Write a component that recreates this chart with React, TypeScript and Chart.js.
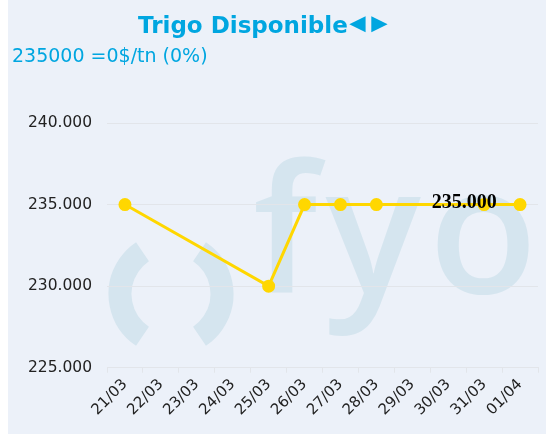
import React, { useEffect, useRef } from "react";
import { Chart, registerables } from "chart.js";

Chart.register(...registerables);

const categories = ["21/03", "22/03", "23/03", "24/03", "25/03", "26/03", "27/03", "28/03", "29/03", "30/03", "31/03", "01/04"];
const prices: (number | null)[] = [235000, null, null, null, 230000, 235000, 235000, 235000, null, null, 235000, 235000];
const yTicks = [225000, 230000, 235000, 240000];
const titleMain = "Trigo Disponible";
const titleArrows = ["\u25C4", "\u25BA"];
const subtitleText = "235000 =0$/tn (0%)";
const labelText = "235.000";
const labelIndex = 10;

const BLUE = "#00a6e0";
const BG = "#ecf1f9";
const WM = "#d5e5ef";

const fmt = (v: number) => v.toLocaleString("de-DE");

const drawGlyphBox = (ctx: any, ch: string, left: number, bottom: number, targetW: number) => {
  ctx.font = "bold 40px 'Liberation Sans'";
  let m = ctx.measureText(ch);
  const bw = m.actualBoundingBoxRight + m.actualBoundingBoxLeft;
  const size = 40 * targetW / (bw || 1);
  ctx.font = `bold ${size}px 'Liberation Sans'`;
  m = ctx.measureText(ch);
  ctx.fillText(ch, left + m.actualBoundingBoxLeft, bottom - m.actualBoundingBoxDescent);
};

const decorPlugin = {
  id: "decor",
  beforeDraw(chart: any) {
    const { ctx, width, height } = chart;
    ctx.save();
    ctx.fillStyle = BG;
    ctx.fillRect(0, 0, width, height);
    // watermark
    ctx.fillStyle = WM;
    ctx.strokeStyle = WM;
    ctx.font = "600 178px 'Open Sans'";
    ctx.textBaseline = "alphabetic";
    ctx.textAlign = "left";
    try { (ctx as any).letterSpacing = "8px"; } catch (e) {}
    ctx.fillText("fyo", 245, 293);
    try { (ctx as any).letterSpacing = "0px"; } catch (e) {}
    ctx.lineWidth = 23;
    ctx.lineCap = "butt";
    const cx = 163, cy = 294, r = 51, a = (56 * Math.PI) / 180;
    ctx.beginPath();
    ctx.arc(cx, cy, r, Math.PI - a, Math.PI + a);
    ctx.stroke();
    ctx.beginPath();
    ctx.arc(cx, cy, r, -a, a);
    ctx.stroke();
    ctx.restore();
  },
  afterDraw(chart: any) {
    const { ctx } = chart;
    ctx.save();
    ctx.fillStyle = BLUE;
    ctx.textBaseline = "alphabetic";
    ctx.textAlign = "left";
    ctx.font = "bold 23px 'DejaVu Sans'";
    ctx.fillText(titleMain, 130, 33);
    drawGlyphBox(ctx, titleArrows[0], 341, 33, 17);
    drawGlyphBox(ctx, titleArrows[1], 363, 33, 17);
    ctx.font = "19px 'DejaVu Sans'";
    ctx.fillText(subtitleText, 4, 62);
    // data label
    const xs = chart.scales.x;
    const ys = chart.scales.y;
    const v = prices[labelIndex] as number;
    ctx.fillStyle = "#000";
    ctx.font = "bold 20px 'Liberation Serif'";
    ctx.textAlign = "center";
    ctx.fillText(labelText, xs.getPixelForValue(labelIndex) - 20, ys.getPixelForValue(v) + 3);
    ctx.restore();
  },
};

export default function App() {
  const ref = useRef<HTMLCanvasElement>(null);
  useEffect(() => {
    if (!ref.current) return;
    const chart = new Chart(ref.current, {
      type: "line",
      data: {
        labels: categories,
        datasets: [
          {
            data: prices,
            borderColor: "#ffd700",
            backgroundColor: "#ffd700",
            pointBackgroundColor: "#ffd700",
            pointBorderColor: "#ffd700",
            borderWidth: 3,
            pointRadius: 5,
            spanGaps: true,
            tension: 0,
          },
        ],
      },
      options: {
        animation: false,
        responsive: true,
        maintainAspectRatio: false,
        layout: { padding: { top: 123, left: 20, right: 6, bottom: 12 } },
        plugins: { legend: { display: false }, tooltip: { enabled: false } },
        scales: {
          x: {
            offset: true,
            grid: { display: true, offset: true, drawOnChartArea: false, drawTicks: true, tickLength: 5, color: "#e2e5ea" },
            border: { display: true, color: "#e2e5ea" },
            ticks: { color: "#222", font: { family: "'DejaVu Sans'", size: 15 }, minRotation: 45, maxRotation: 45, autoSkip: false },
          },
          y: {
            min: yTicks[0],
            max: yTicks[yTicks.length - 1],
            afterBuildTicks: (scale: any) => {
              scale.ticks = yTicks.map((v) => ({ value: v }));
            },
            afterFit: (scale: any) => {
              scale.width = 79;
            },
            grid: { color: "#e2e5ea", drawTicks: false },
            border: { display: false },
            ticks: { color: "#222", padding: 15, font: { family: "'DejaVu Sans'", size: 15.5 }, callback: (v: any) => fmt(Number(v)) },
          },
        },
      },
      plugins: [decorPlugin],
    });
    return () => chart.destroy();
  }, []);
  return (
    <div style={{ position: "absolute", left: 8, top: 0, width: 538, height: 434, background: BG }}>
      <canvas ref={ref} />
    </div>
  );
}
